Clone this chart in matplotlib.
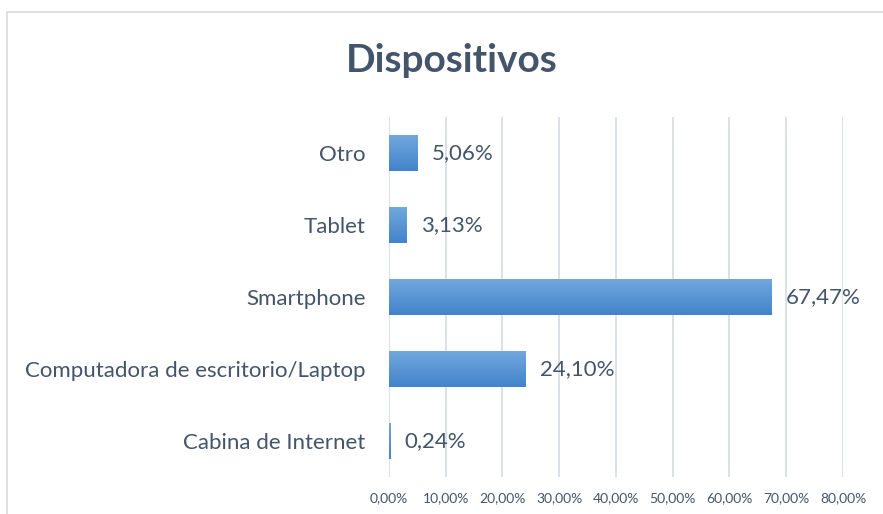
import matplotlib.pyplot as plt
import numpy as np
from matplotlib.patches import Rectangle

# Datos del gráfico
categorias = ['Cabina de Internet', 'Computadora de escritorio/Laptop',
              'Smartphone', 'Tablet', 'Otro']
porcentajes = [0.24, 24.10, 67.47, 3.13, 5.06]
ticks_x = [0, 10, 20, 30, 40, 50, 60, 70, 80]

texto = '#44546A'
plt.rcParams['font.family'] = ['Lato', 'DejaVu Sans']

fig = plt.figure(figsize=(8.83, 5.14), dpi=100)
ax = fig.add_axes([0.4405, 0.072, 0.5142, 0.7004])

# borde del área del gráfico
fig.patches.append(Rectangle((0.008, -0.1), 1.5, 1.0767, transform=fig.transFigure,
                             fill=False, edgecolor='#D9D9D9', linewidth=1.2))

y = np.arange(len(categorias))
bars = ax.barh(y, porcentajes, height=0.51, color='#5B9BD5', zorder=2)

# degradado de cada barra (claro arriba, oscuro abajo)
grad = np.linspace(0, 1, 100).reshape(-1, 1)
cmap = plt.matplotlib.colors.LinearSegmentedColormap.from_list('g', ['#4283CA', '#72A9DE'])
for b in bars:
    x0, y0, w, h = b.get_x(), b.get_y(), b.get_width(), b.get_height()
    im = ax.imshow(grad, cmap=cmap, aspect='auto', origin='lower',
                   extent=(x0, x0 + w, y0, y0 + h), zorder=2)
    im.set_clip_path(b)

for yi, v in zip(y, porcentajes):
    ax.text(v + 2.5, yi, f'{v:.2f}%'.replace('.', ','), va='center', ha='left',
            fontsize=16, color=texto)

ax.set_xlim(0, 80)
ax.set_ylim(-0.5, 4.5)
ax.set_yticks(y)
ax.set_yticklabels(categorias, fontsize=16, color=texto)
ax.set_xticks(ticks_x)
ax.set_xticklabels([f'{t:.2f}%'.replace('.', ',') for t in ticks_x], fontsize=10, color=texto)
ax.tick_params(axis='both', length=0)
ax.tick_params(axis='y', pad=17)
ax.tick_params(axis='x', pad=11)
ax.grid(axis='x', color='#D9DEE6', linewidth=1.3, zorder=0)
for s in ax.spines.values():
    s.set_visible(False)

fig.text(0.512, 0.883, 'Dispositivos', ha='center', va='center',
         fontsize=28, fontweight='bold', color=texto)

fig.savefig('out.png', dpi=100)
